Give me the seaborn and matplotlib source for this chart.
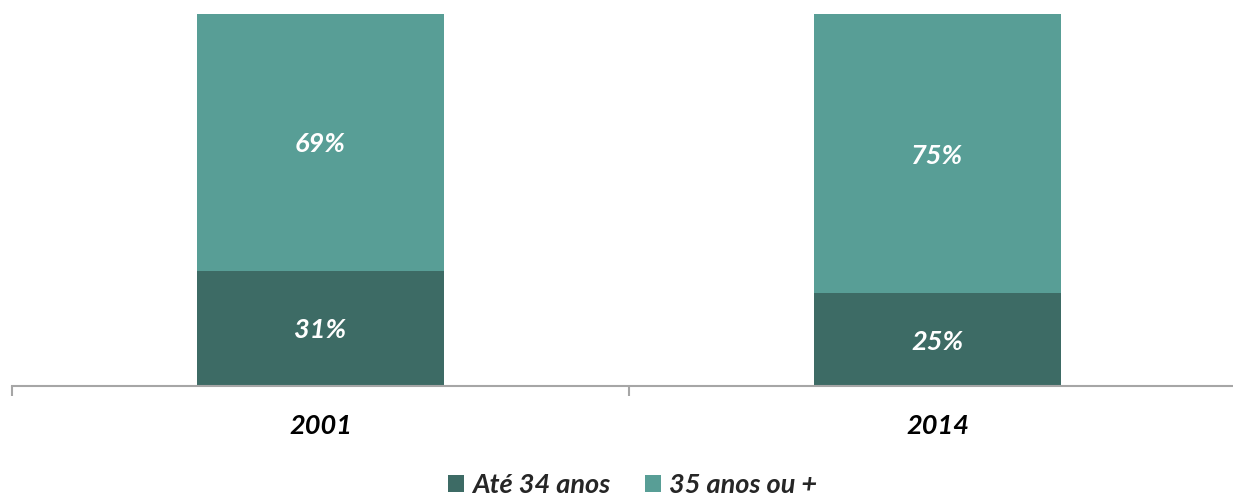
import matplotlib
matplotlib.use("Agg")
import matplotlib.pyplot as plt
import seaborn as sns
import pandas as pd
from matplotlib.patches import Patch

sns.set_theme(style="white")
plt.rcParams["font.family"] = ["Lato", "DejaVu Sans"]

years = ["2001", "2014"]
ate_34 = [31, 25]
mais_35 = [69, 75]
series_names = ["Até 34 anos", "35 anos ou +"]
colors = ["#3d6b65", "#589e96"]

df = pd.DataFrame({"ano": years, "ate": ate_34, "mais": mais_35})
df["total"] = df["ate"] + df["mais"]

fig = plt.figure(figsize=(12.33, 4.93), dpi=100)
ax = fig.add_axes([12 / 1233, 1 - 386 / 493, 1234 / 1233, (386 - 14) / 493])

# stacked bars: full height in the light colour, lower segment on top of it
sns.barplot(data=df, x="ano", y="total", color=colors[1], width=0.4,
            saturation=1, ax=ax, linewidth=0)
sns.barplot(data=df, x="ano", y="ate", color=colors[0], width=0.4,
            saturation=1, ax=ax, linewidth=0)

ax.set_xlim(-0.5, 1.5)
ax.set_ylim(0, 100)
ax.set_xlabel("")
ax.set_ylabel("")
ax.set_yticks([])

fs = 19.5
for i, row in df.iterrows():
    ax.text(i, row["ate"] / 2, f"{row['ate']}%", ha="center",
            va="center_baseline", color="white", fontsize=fs,
            fontweight="bold", style="italic")
    ax.text(i, row["ate"] + row["mais"] / 2, f"{row['mais']}%", ha="center",
            va="center_baseline", color="white", fontsize=fs,
            fontweight="bold", style="italic")

for s in ["top", "right", "left"]:
    ax.spines[s].set_visible(False)
ax.spines["bottom"].set_color("#a6a6a6")
ax.spines["bottom"].set_linewidth(1.5)

ax.set_xticks([-0.5, 0.5, 1.5], minor=True)
ax.tick_params(axis="x", which="minor", length=7, width=1.5, color="#a6a6a6",
               bottom=True)
ax.tick_params(axis="x", which="major", length=0, pad=20)
for lbl in ax.get_xticklabels():
    lbl.set_fontsize(fs)
    lbl.set_fontweight("bold")
    lbl.set_style("italic")
    lbl.set_color("black")

handles = [Patch(facecolor=c, edgecolor="none") for c in colors]
leg = fig.legend(handles, series_names, loc="center", bbox_to_anchor=(0.513, 0.016),
                 ncol=2, frameon=False, handlelength=0.6, handleheight=0.6,
                 handletextpad=0.28, columnspacing=1.3,
                 prop={"family": ["Lato", "DejaVu Sans"], "size": fs,
                       "weight": "bold", "style": "italic"})

fig.savefig("out.png", dpi=100)
